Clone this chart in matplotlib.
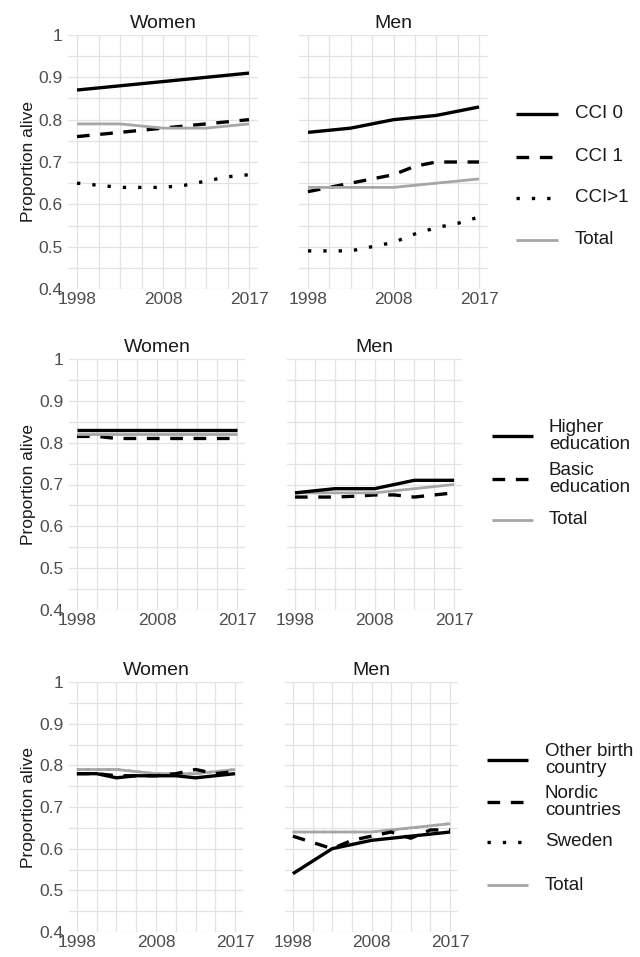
import matplotlib
matplotlib.use("Agg")
import matplotlib.pyplot as plt
from matplotlib.lines import Line2D

plt.rcParams["font.family"] = ["Liberation Sans", "DejaVu Sans"]

# time points (9 periods), labels only at 1998 / 2008 / 2017
periods = list(range(9))
tick_pos = [0, 4, 8]
tick_labels = ["1998", "2008", "2017"]
y_ticks = [0.4, 0.5, 0.6, 0.7, 0.8, 0.9, 1.0]
y_tick_labels = ["0.4", "0.5", "0.6", "0.7", "0.8", "0.9", "1"]

# --- row 1 : comorbidity (CCI)
cci0_women = [0.87, 0.875, 0.88, 0.885, 0.89, 0.895, 0.90, 0.905, 0.91]
cci1_women = [0.76, 0.765, 0.77, 0.775, 0.78, 0.785, 0.79, 0.795, 0.80]
cci2_women = [0.65, 0.645, 0.64, 0.64, 0.64, 0.645, 0.655, 0.665, 0.67]
tot1_women = [0.79, 0.79, 0.79, 0.785, 0.78, 0.78, 0.78, 0.785, 0.79]

cci0_men = [0.77, 0.775, 0.78, 0.79, 0.80, 0.805, 0.81, 0.82, 0.83]
cci1_men = [0.63, 0.64, 0.65, 0.66, 0.67, 0.69, 0.70, 0.70, 0.70]
cci2_men = [0.49, 0.49, 0.49, 0.50, 0.51, 0.53, 0.545, 0.555, 0.57]
tot1_men = [0.64, 0.64, 0.64, 0.64, 0.64, 0.645, 0.65, 0.655, 0.66]

# --- row 2 : education
high_women = [0.83, 0.83, 0.83, 0.83, 0.83, 0.83, 0.83, 0.83, 0.83]
basic_women = [0.815, 0.815, 0.81, 0.81, 0.81, 0.81, 0.81, 0.81, 0.81]
tot2_women = [0.82, 0.82, 0.82, 0.82, 0.82, 0.82, 0.82, 0.82, 0.82]

high_men = [0.68, 0.685, 0.69, 0.69, 0.69, 0.70, 0.71, 0.71, 0.71]
basic_men = [0.67, 0.67, 0.67, 0.672, 0.675, 0.675, 0.67, 0.675, 0.68]
tot2_men = [0.68, 0.68, 0.68, 0.68, 0.68, 0.685, 0.69, 0.695, 0.70]

# --- row 3 : birth country
other_women = [0.78, 0.78, 0.77, 0.775, 0.775, 0.775, 0.77, 0.775, 0.78]
nordic_women = [0.78, 0.78, 0.775, 0.775, 0.775, 0.78, 0.79, 0.78, 0.785]
sweden_women = [0.79, 0.79, 0.79, 0.785, 0.78, 0.78, 0.78, 0.785, 0.79]
tot3_women = [0.79, 0.79, 0.79, 0.785, 0.78, 0.78, 0.78, 0.785, 0.79]

other_men = [0.54, 0.57, 0.60, 0.61, 0.62, 0.625, 0.63, 0.635, 0.64]
nordic_men = [0.63, 0.615, 0.60, 0.62, 0.63, 0.64, 0.625, 0.645, 0.645]
sweden_men = [0.64, 0.64, 0.64, 0.64, 0.64, 0.645, 0.65, 0.655, 0.66]
tot3_men = [0.64, 0.64, 0.64, 0.64, 0.64, 0.645, 0.65, 0.655, 0.66]

W, H = 640, 957
BLACK = "#000000"
GREY = "#A6A6A6"
GRID = "#E3E3E3"
TXT = "#4D4D4D"

SOLID = dict(color=BLACK, lw=2.4, linestyle="-", solid_capstyle="butt")
DASH = dict(color=BLACK, lw=2.4, linestyle=(0, (3.8, 3.2)), dash_capstyle="butt")
DOT = dict(color=BLACK, lw=2.4, linestyle=(0, (1, 3.6)), dash_capstyle="butt")
# Sweden lies almost exactly under the total line, so it is drawn thinner there
DOT_UNDER = dict(DOT, lw=1.6)
TOTAL = dict(color=GREY, lw=2.0, linestyle="-", solid_capstyle="butt")

fig = plt.figure(figsize=(W / 100, H / 100), dpi=100)
fig.patch.set_facecolor("white")


def add_panel(left, top, right, bottom):
    return fig.add_axes([left / W, 1 - bottom / H, (right - left) / W, (bottom - top) / H])


def style(ax, title, show_y):
    ax.set_xlim(-0.4, 8.4)
    ax.set_ylim(0.4, 1.0)
    for s in ax.spines.values():
        s.set_visible(False)
    ax.set_xticks(periods, minor=True)
    ax.set_yticks([0.4 + 0.05 * i for i in range(13)], minor=True)
    ax.set_xticks(tick_pos)
    ax.set_xticklabels(tick_labels)
    ax.set_yticks(y_ticks)
    ax.grid(True, which="both", color=GRID, lw=0.9)
    ax.set_axisbelow(True)
    ax.tick_params(which="both", length=0)
    ax.tick_params(axis="x", labelsize=12.5, labelcolor=TXT, pad=2)
    ax.tick_params(axis="y", labelsize=12.5, labelcolor=TXT, pad=4)
    if show_y:
        ax.set_yticklabels(y_tick_labels)
        ax.set_ylabel("Proportion alive", fontsize=12.5, color="#1A1A1A", labelpad=2)
    else:
        ax.set_yticklabels([])
    ax.set_title(title, fontsize=14, color="#1A1A1A", pad=5)


def draw(ax, series):
    for vals, st in series:
        ax.plot(periods, vals, **st)


# row layout in pixels: (women box, men box)
rows = [
    ((68.4, 35, 257.6, 289), (299.4, 35, 487.6, 289)),
    ((69, 359, 245, 610), (287, 359, 462, 610)),
    ((69, 682, 243, 932), (285, 682, 458, 932)),
]

panels = [
    ([(cci1_women, DASH), (cci2_women, DOT), (cci0_women, SOLID), (tot1_women, TOTAL)],
     [(cci1_men, DASH), (cci2_men, DOT), (cci0_men, SOLID), (tot1_men, TOTAL)]),
    ([(basic_women, DASH), (high_women, SOLID), (tot2_women, TOTAL)],
     [(basic_men, DASH), (tot2_men, TOTAL), (high_men, SOLID)]),
    ([(sweden_women, DOT_UNDER), (tot3_women, TOTAL), (nordic_women, DASH), (other_women, SOLID)],
     [(sweden_men, DOT_UNDER), (tot3_men, TOTAL), (nordic_men, DASH), (other_men, SOLID)]),
]

for (wbox, mbox), (wser, mser) in zip(rows, panels):
    axw = add_panel(*wbox)
    style(axw, "Women", True)
    draw(axw, wser)
    axm = add_panel(*mbox)
    style(axm, "Men", False)
    draw(axm, mser)

# legends, placed by hand (pixel positions of key line and text)
legends = [
    (["CCI 0", "CCI 1", "CCI>1", "Total"], [SOLID, DASH, DOT, TOTAL],
     (516, 558, 575), [114, 157, 198, 240]),
    (["Higher\neducation", "Basic\neducation", "Total"], [SOLID, DASH, TOTAL],
     (492, 533, 549), [436, 479, 520]),
    (["Other birth\ncountry", "Nordic\ncountries", "Sweden", "Total"], [SOLID, DASH, DOT, TOTAL],
     (487, 528, 545), [760, 802, 842, 885]),
]
for labels, styles, (x0, x1, xt), ys in legends:
    for lab, st, y in zip(labels, styles, ys):
        fy = 1 - y / H
        fig.add_artist(Line2D([x0 / W, x1 / W], [fy, fy], transform=fig.transFigure, **st))
        fig.text(xt / W, fy, lab, fontsize=13.5, color="#1A1A1A",
                 va="center", ha="left", linespacing=1.0)

fig.savefig("out.png", dpi=100, facecolor="white")
